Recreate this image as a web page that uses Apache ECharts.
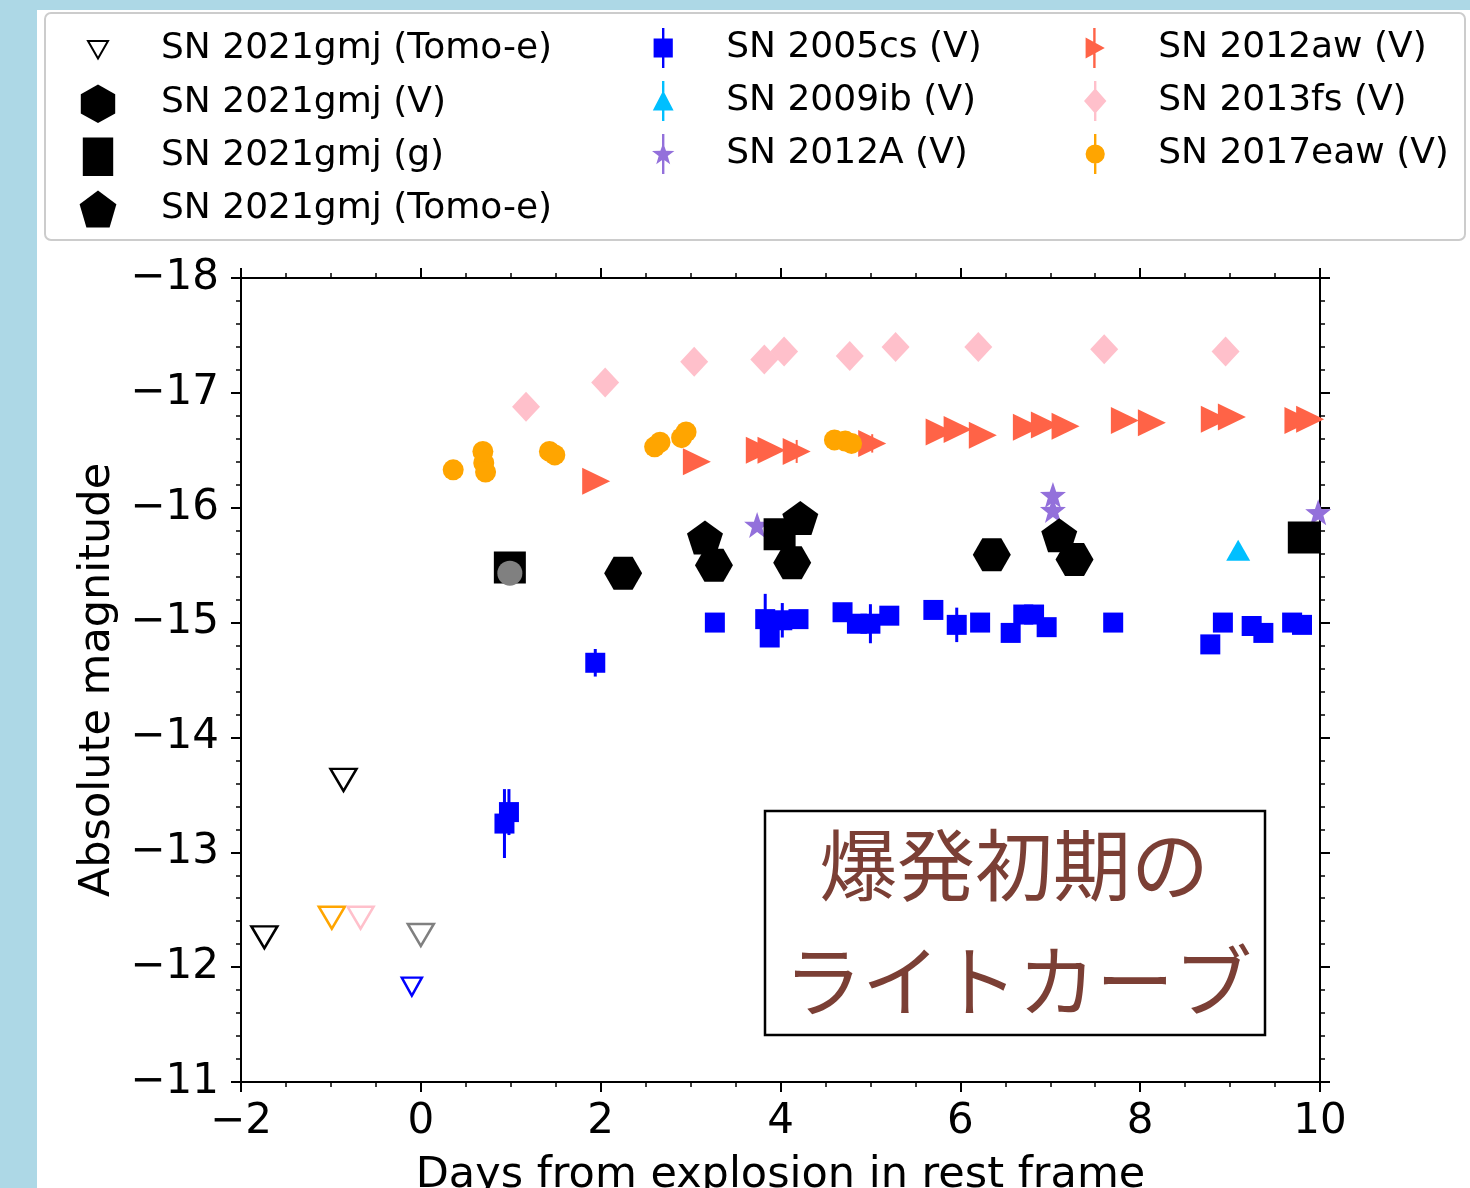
<!DOCTYPE html>
<html>
<head>
<meta charset="utf-8">
<title>SN 2021gmj light curve</title>
<script src="https://cdn.jsdelivr.net/npm/echarts@6/dist/echarts.min.js"></script>
<style>
html, body { margin: 0; padding: 0; background: #ADD8E6; }
#chart { position: absolute; left: 37px; top: 10px; width: 1433px; height: 1178px; background: #fff; }
</style>
</head>
<body>
<div id="chart"></div>
<script>
// [day, absolute mag, error]
var sn2005cs = [
	[0.93, -13.25, 0.30], [0.98, -13.35, 0.20], [1.94, -14.65, 0.12],
	[3.27, -15.00, 0.03], [3.83, -15.03, 0.22], [3.88, -14.87, 0.05], [4.02, -15.02, 0.15], [4.20, -15.03, 0.05],
	[4.69, -15.09, 0.03], [4.85, -14.99, 0.05], [5.00, -14.99, 0.17], [5.21, -15.06, 0.03],
	[5.70, -15.11, 0.03], [5.96, -14.98, 0.15], [6.22, -15.00, 0.03],
	[6.56, -14.91, 0.03], [6.70, -15.07, 0.03], [6.82, -15.07, 0.03], [6.96, -14.96, 0.03],
	[7.70, -15.00, 0.03], [8.78, -14.81, 0.03], [8.92, -15.00, 0.03], [9.24, -14.97, 0.03],
	[9.37, -14.91, 0.03], [9.69, -15.00, 0.03], [9.80, -14.98, 0.03]
];
var sn2009ib = [[9.09, -15.63, 0.03]];
var sn2012A = [[3.74, -15.85, 0.05], [7.03, -16.11, 0.06], [7.03, -15.98, 0.06], [9.98, -15.96, 0.05]];
var sn2012aw = [
	[1.95, -16.23, 0.03], [3.07, -16.40, 0.03], [3.77, -16.50, 0.03], [3.90, -16.50, 0.03], [4.18, -16.49, 0.10],
	[5.02, -16.56, 0.08], [5.77, -16.66, 0.03], [5.97, -16.68, 0.03], [6.25, -16.63, 0.03],
	[6.74, -16.70, 0.03], [6.94, -16.72, 0.03], [7.17, -16.71, 0.03], [7.83, -16.76, 0.03],
	[8.13, -16.74, 0.03], [8.83, -16.77, 0.03], [9.02, -16.79, 0.03], [9.76, -16.76, 0.03], [9.89, -16.77, 0.03]
];
var sn2013fs = [
	[1.17, -16.88], [2.05, -17.09], [3.04, -17.27], [3.82, -17.29], [4.04, -17.36],
	[4.77, -17.32], [5.28, -17.40], [6.20, -17.40], [7.60, -17.38], [8.95, -17.36]
];
var sn2017eaw = [
	[0.36, -16.33, 0.03], [0.69, -16.49, 0.03], [0.70, -16.39, 0.03], [0.72, -16.31, 0.03],
	[1.43, -16.49, 0.03], [1.49, -16.46, 0.03], [2.60, -16.53, 0.03], [2.66, -16.57, 0.03],
	[2.90, -16.61, 0.03], [2.95, -16.66, 0.03], [4.60, -16.59, 0.03], [4.72, -16.58, 0.03], [4.79, -16.56, 0.03]
];
var gmjV = [[2.25, -15.43], [3.26, -15.50], [4.13, -15.52], [6.35, -15.59], [7.27, -15.55]];
var gmjG = [[0.99, -15.48], [3.99, -15.77], [9.82, -15.74]];
var gmjTomoe = [[3.16, -15.74], [4.22, -15.91], [7.10, -15.76]];
var gmjGray = [[0.99, -15.43]];
// upper limits
var limGmj = [[-1.74, -12.26], [-0.86, -13.63]];
var limGray = [[0.00, -12.28]];
var lim2017eaw = [[-0.99, -12.43]];
var lim2013fs = [[-0.67, -12.43]];
var lim2005cs = [[-0.10, -11.83]];

var xTicks = [-2, 0, 2, 4, 6, 8, 10];
var yTicks = [-18, -17, -16, -15, -14, -13, -12, -11];

var FONT = 'DejaVu Sans';
var HEX = 'path://M0 50 L25 7 L75 7 L100 50 L75 93 L25 93 Z';
var PENT = 'path://M50 0 L100 38 L81 100 L19 100 L0 38 Z';
var STAR = 'path://M50 0 L61.8 33.8 L97.6 34.5 L69 56.2 L79.4 90.5 L50 70 L20.6 90.5 L31 56.2 L2.4 34.5 L38.2 33.8 Z';
var RTRI = 'path://M0 0 L100 50 L0 100 Z';
var DTRI = 'path://M0 0 L100 0 L50 100 Z';
var STEM = ' M47 0 L53 0 L53 100 L47 100 Z';

function fmt(v) { return v < 0 ? '\u2212' + Math.abs(v) : String(v); }
function xy(arr) { return arr.map(function (d) { return [d[0], d[1]]; }); }

function errBars(arr, color, w) {
	return {
		type: 'custom', silent: true,
		data: arr,
		encode: { x: 0, y: 1 },
		renderItem: function (params, api) {
			var x = api.value(0), y = api.value(1), e = api.value(2);
			var p1 = api.coord([x, y - e]), p2 = api.coord([x, y + e]);
			return { type: 'line', shape: { x1: p1[0], y1: p1[1], x2: p2[0], y2: p2[1] },
				style: { stroke: color, lineWidth: w } };
		}
	};
}
function marks(name, arr, symbol, size, color) {
	return { name: name, type: 'scatter', data: xy(arr), symbol: symbol, symbolSize: size,
		itemStyle: { color: color, opacity: 1 }, emphasis: { disabled: true } };
}
function limits(name, arr, color, size) {
	return { name: name, type: 'scatter', data: arr, symbol: DTRI, symbolSize: size,
		itemStyle: { color: 'rgba(0,0,0,0)', borderColor: color, borderWidth: 2.5, opacity: 1 },
		emphasis: { disabled: true } };
}

var series = [
	errBars(sn2005cs, '#0000FF', 3), marks('SN 2005cs (V)', sn2005cs, 'rect', 20, '#0000FF'),
	errBars(sn2009ib, '#00BFFF', 2), marks('SN 2009ib (V)', sn2009ib, 'triangle', [24, 21], '#00BFFF'),
	errBars(sn2012A, '#9370DB', 2), marks('SN 2012A (V)', sn2012A, STAR, 26, '#9370DB'),
	errBars(sn2012aw, '#FF6347', 2), marks('SN 2012aw (V)', sn2012aw, RTRI, [28, 27], '#FF6347'),
	marks('SN 2013fs (V)', sn2013fs, 'diamond', [28, 30], '#FFC0CB'),
	errBars(sn2017eaw, '#FFA500', 2), marks('SN 2017eaw (V)', sn2017eaw, 'circle', 21, '#FFA500'),
	limits('lim2017eaw', lim2017eaw, '#FFA500', [26, 22]),
	limits('lim2013fs', lim2013fs, '#FFC0CB', [26, 22]),
	limits('lim2005cs', lim2005cs, '#0000FF', [20, 18]),
	limits('limGray', limGray, '#808080', [26, 22]),
	limits('SN 2021gmj (Tomo-e) ', limGmj, '#000000', [26, 22]),
	marks('SN 2021gmj (V)', gmjV, HEX, [38, 33], '#000000'),
	marks('SN 2021gmj (g)', gmjG, 'rect', 32, '#000000'),
	marks('SN 2021gmj (Tomo-e)', gmjTomoe, PENT, [36, 34], '#000000'),
	marks('gray', gmjGray, 'circle', 25, '#808080')
];

var legendCommon = {
	orient: 'vertical', top: 18, padding: 0, itemWidth: 40, itemHeight: 40, itemGap: 13,
	selectedMode: false,
	textStyle: { fontFamily: FONT, fontSize: 36, color: '#000', padding: [0, 0, 0, 38] }
};
function legendAt(left, data) {
	return Object.assign({}, legendCommon, { left: left, data: data });
}

var axisText = { fontFamily: FONT, fontSize: 42, color: '#000' };
function xAx(pos, show) {
	return {
		type: 'value', position: pos, min: xTicks[0], max: xTicks[xTicks.length - 1], interval: xTicks[1] - xTicks[0],
		axisLine: { onZero: false, lineStyle: { color: '#000', width: 2 } },
		axisTick: { length: 10, lineStyle: { color: '#000', width: 2 } },
		minorTick: { show: true, splitNumber: 4, length: 5, lineStyle: { color: '#000', width: 1.5 } },
		splitLine: { show: false }, minorSplitLine: { show: false },
		axisLabel: Object.assign({ show: show, margin: 19, formatter: fmt }, axisText),
		name: show ? 'Days from explosion in rest frame' : '', nameLocation: 'middle', nameGap: 72,
		nameTextStyle: Object.assign({}, axisText, { fontSize: 43 })
	};
}
function yAx(pos, show) {
	return {
		type: 'value', position: pos, inverse: true, min: yTicks[0], max: yTicks[yTicks.length - 1], interval: 1,
		axisLine: { onZero: false, lineStyle: { color: '#000', width: 2 } },
		axisTick: { length: 10, lineStyle: { color: '#000', width: 2 } },
		minorTick: { show: true, splitNumber: 5, length: 5, lineStyle: { color: '#000', width: 1.5 } },
		splitLine: { show: false }, minorSplitLine: { show: false },
		axisLabel: Object.assign({ show: show, margin: 22, formatter: fmt }, axisText),
		name: show ? 'Absolute magnitude' : '', nameLocation: 'middle', nameGap: 118,
		nameTextStyle: Object.assign({}, axisText, { fontSize: 43 })
	};
}

var chart = echarts.init(document.getElementById('chart'));
chart.setOption({
	animation: false,
	backgroundColor: '#fff',
	grid: { left: 204, top: 268, width: 1079, height: 804, outerBoundsMode: 'none', containLabel: false },
	xAxis: [xAx('bottom', true), xAx('top', false)],
	yAxis: [yAx('left', true), yAx('right', false)],
	legend: [
		legendAt(40, [
			{ name: 'SN 2021gmj (Tomo-e) ', icon: 'path://M25 30 L75 30 L50 74 Z M0 0 L0 0 M100 100 L100 100' },
			{ name: 'SN 2021gmj (V)', icon: 'path://M50 4 L93 28 L93 76 L50 100 L7 76 L7 28 Z M50 0 L50 0' },
			{ name: 'SN 2021gmj (g)', icon: 'path://M12 4 L88 4 L88 100 L12 100 Z M50 0 L50 0' },
			{ name: 'SN 2021gmj (Tomo-e)', icon: 'path://M50 4 L96 38 L79 96 L21 96 L4 38 Z M50 0 L50 0 M50 100 L50 100' }
		]),
		legendAt(615, [
			{ name: 'SN 2005cs (V)', icon: 'path://M26 26 L74 26 L74 74 L26 74 Z' + STEM },
			{ name: 'SN 2009ib (V)', icon: 'path://M50 24 L76 74 L24 74 Z' + STEM },
			{ name: 'SN 2012A (V)', icon: 'path://M50 22 L57 42 L78 42.5 L61.3 55.2 L67.4 75.4 L50 63.4 L32.6 75.4 L38.7 55.2 L22 42.5 L43 42 Z' + STEM }
		]),
		legendAt(1047, [
			{ name: 'SN 2012aw (V)', icon: 'path://M28 24 L76 50 L28 76 Z' + STEM },
			{ name: 'SN 2013fs (V)', icon: 'path://M50 18 L78 50 L50 82 L22 50 Z' + STEM },
			{ name: 'SN 2017eaw (V)', icon: 'path://M26 50 A24 24 0 1 1 74 50 A24 24 0 1 1 26 50 Z' + STEM }
		])
	],
	graphic: [
		{ type: 'rect', z: -10, shape: { x: 8, y: 3, width: 1420, height: 227, r: 6 },
			style: { fill: '#fff', stroke: '#cccccc', lineWidth: 2 } },
		{ type: 'rect', z: 10, shape: { x: 728, y: 801, width: 500, height: 224 },
			style: { fill: '#fff', stroke: '#000', lineWidth: 2.5 } },
		{ type: 'text', z: 11, x: 977, y: 855,
			style: { text: '爆発初期の', fill: '#7B3F35', font: '78px "Noto Sans CJK JP"', align: 'center', verticalAlign: 'middle' } },
		{ type: 'text', z: 11, x: 981, y: 971,
			style: { text: 'ライトカーブ', fill: '#7B3F35', font: '78px "Noto Sans CJK JP"', align: 'center', verticalAlign: 'middle' } }
	],
	series: series
});
</script>
</body>
</html>
